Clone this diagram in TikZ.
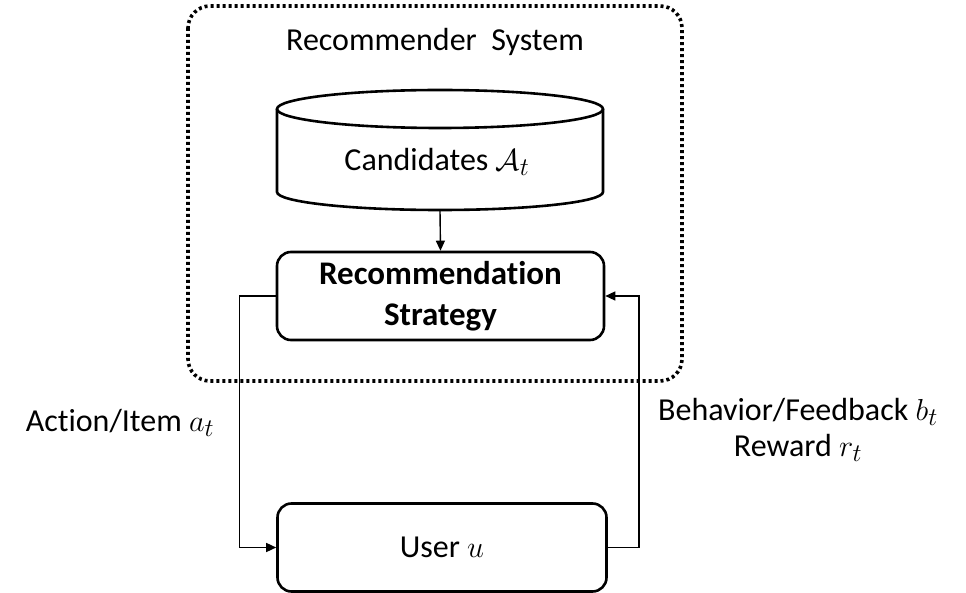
\documentclass[tikz,border=0pt]{standalone}
\usepackage{fontspec}
\usepackage{graphicx}
\setmainfont[Ligatures=NoCommon]{Carlito}
\usetikzlibrary{arrows.meta}
\newcommand\mth[1]{\scalebox{1.22}{$#1$}}
\begin{document}
\begin{tikzpicture}[x=1pt,y=-1pt,
  box/.style={draw,line width=2.6pt,rounded corners=14pt,inner sep=0pt},
  conn/.style={line width=1.4pt},
  arr/.style={conn,-{Triangle[length=10pt,width=9pt]}},
  sysbox/.style={line width=3.6pt,dash pattern=on 3pt off 3pt,rounded corners=22pt},
  txt/.style={font=\fontsize{32}{36}\selectfont,inner sep=0pt}]
\useasboundingbox (0,0) rectangle (966,593);
% system dotted box
\draw[sysbox] (188,6) rectangle (682,381);
\node[txt] (sys) at (435,42) {Recommender\ \ System};
% cylinder
\draw[line width=2.6pt] (277,109) -- (277,192) arc[start angle=180,end angle=360,x radius=163pt,y radius=18pt] -- (603,109);
\draw[line width=2.6pt] (440,109) ellipse[x radius=163pt,y radius=19pt];
\node[txt] (cand) at (437,162) {Candidates \mth{\mathcal{A}_t}};
\coordinate (cylbot) at (440,211);
% strategy
\node[box,minimum width=327pt,minimum height=88pt,align=center,
  font=\fontsize{33}{41}\selectfont\bfseries] (strat) at (440.5,296) {Recommendation\\Strategy};
% user
\node[box,minimum width=329pt,minimum height=88pt,font=\fontsize{32}{38}\selectfont] (user) at (442,547.5) {User \mth{u}};
% connectors
\draw[arr] (cylbot) -- (strat.north);
\draw[arr] (strat.west) -- ++(-36,0) coordinate (lc) |- (user.west);
\draw[arr] (user.east) -- ++(31,0) coordinate (rc) |- (strat.east);
% labels
\node[txt] (act) at (120,423) {Action/Item \mth{a_t}};
\node[txt,align=center] (fb) at (798,430) {Behavior/Feedback \mth{b_t}\\Reward \mth{r_t}};
\end{tikzpicture}
\end{document}
